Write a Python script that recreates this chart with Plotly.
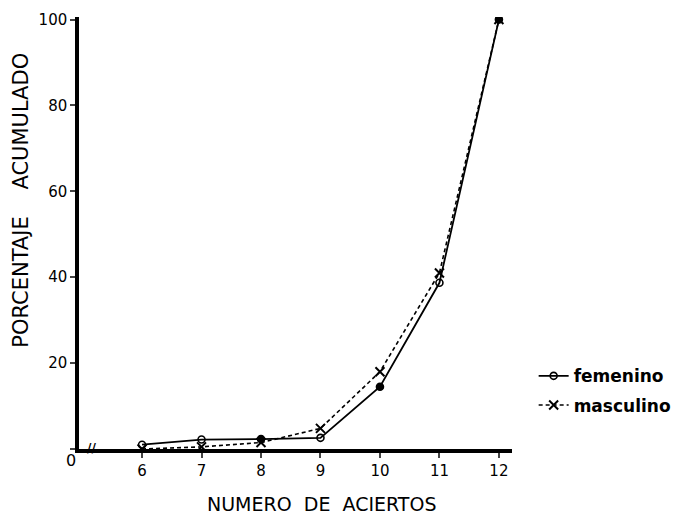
import plotly.graph_objects as go

aciertos = [6, 7, 8, 9, 10, 11, 12]
femenino = [1.0, 2.2, 2.3, 2.6, 14.5, 38.7, 100]
masculino = [0.0, 0.5, 1.5, 4.8, 18.0, 41.0, 100]
fem_symbols = ["circle-open", "circle-open", "circle", "circle-open", "circle", "circle-open", "circle"]
yticks = [0, 20, 40, 60, 80, 100]
ytick_text = ["", "20", "40", "60", "80", "100"]
xticks = [6, 7, 8, 9, 10, 11, 12]

FONT = "DejaVu Sans"

fig = go.Figure()
fig.add_trace(go.Scatter(
    x=aciertos, y=femenino, name="<b>femenino</b>", mode="lines+markers",
    line=dict(color="black", width=1.8),
    marker=dict(symbol=fem_symbols, size=7, color="black", line=dict(width=1.6, color="black")),
    legendgroup="f",
))
fig.add_trace(go.Scatter(
    x=aciertos, y=masculino, name="<b>masculino</b>", mode="lines+markers",
    line=dict(color="black", width=1.6, dash="4px,3px"),
    marker=dict(symbol="x-thin", size=9, color="black", line=dict(width=2, color="black")),
    legendgroup="m",
))

# the page body has an 8px default margin, so the figure is sized to fit the window
fig.update_layout(
    width=677, height=509,
    margin=dict(l=71, r=173, t=9, b=68),
    paper_bgcolor="white", plot_bgcolor="white",
    font=dict(family=FONT, color="black", size=14),
    showlegend=True,
    legend=dict(x=1.05, y=0.21, xanchor="left", yanchor="top",
                font=dict(size=17, family=FONT), tracegroupgap=4,
                traceorder="grouped", bgcolor="rgba(0,0,0,0)", itemwidth=30),
    xaxis=dict(range=[4.94, 12.22], tickvals=xticks, ticks="outside", ticklen=5,
               tickwidth=2, showline=True, linewidth=3.5, linecolor="black",
               showgrid=False, zeroline=False, tickfont=dict(size=15), automargin=False),
    yaxis=dict(range=[0, 100.6], tickvals=yticks, ticktext=ytick_text,
               ticks="outside", ticklen=5, tickwidth=2, automargin=False,
               showline=True, linewidth=3.5, linecolor="black", showgrid=False, zeroline=False,
               tickfont=dict(size=15)),
)

# axis titles (placed like the original, off-centre)
fig.add_annotation(x=0.561, y=-0.128, xref="paper", yref="paper",
                   text="NUMERO  DE  ACIERTOS", showarrow=False,
                   xanchor="center", yanchor="middle", font=dict(size=19))
fig.add_annotation(x=-0.136, y=0.575, xref="paper", yref="paper",
                   text="PORCENTAJE    ACUMULADO", showarrow=False, textangle=-90,
                   xanchor="center", yanchor="middle", font=dict(size=21))

fig.add_annotation(x=0, y=0, xref="paper", yref="y", text="0", showarrow=False,
                   xanchor="right", yanchor="top", xshift=-1, yshift=0, font=dict(size=16))
fig.add_annotation(x=5.15, y=0, xref="x", yref="y", text="<b>//</b>", showarrow=False,
                   font=dict(size=12), yshift=1)

fig.write_html("out.html")
